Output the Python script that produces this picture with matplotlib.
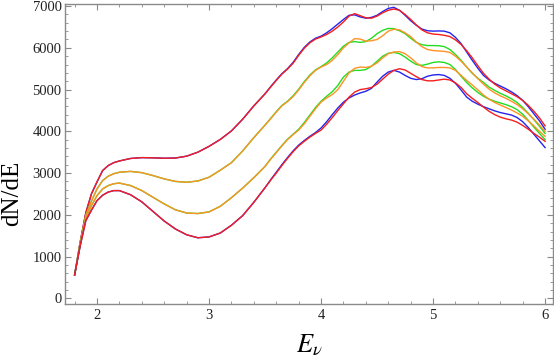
import matplotlib
matplotlib.use('Agg')
import matplotlib.pyplot as plt
from matplotlib.ticker import MultipleLocator

plt.rcParams['font.family'] = ['Liberation Serif', 'DejaVu Serif']
plt.rcParams['mathtext.fontset'] = 'stix'

# energy grid: finer near the steep start and where curves wiggle
e_low = [1.8, 1.85, 1.9, 1.95, 2.0, 2.05, 2.1, 2.15, 2.2, 2.3, 2.4, 2.5,
         2.6, 2.7, 2.8, 2.9, 3.0, 3.1, 3.2, 3.3, 3.4]
e_high = [3.5, 3.55, 3.6, 3.65, 3.7, 3.75, 3.8, 3.85, 3.9, 3.95,
          4.0, 4.05, 4.1, 4.15, 4.2, 4.25, 4.3, 4.35, 4.4, 4.45,
          4.5, 4.55, 4.6, 4.65, 4.7, 4.75, 4.8, 4.85, 4.9, 4.95,
          5.0, 5.05, 5.1, 5.15, 5.2, 5.25, 5.3, 5.35, 5.4, 5.45,
          5.5, 5.55, 5.6, 5.65, 5.7, 5.75, 5.8, 5.85, 5.9, 5.95,
          6.0]
energy = e_low + e_high

# low-energy part, pairs coincide there
low_top = [560, 1350, 2050, 2500, 2790, 3060, 3180, 3250, 3290, 3350, 3370, 3365,
           3355, 3360, 3405, 3500, 3640, 3805, 4010, 4290, 4610]
low_2nd = [560, 1320, 1980, 2330, 2620, 2820, 2925, 2985, 3020, 3040, 3010, 2940,
           2860, 2800, 2780, 2810, 2900, 3068, 3250, 3530, 3850]
low_3rd = [560, 1290, 1920, 2220, 2460, 2620, 2700, 2745, 2760, 2700, 2580, 2420,
           2260, 2120, 2043, 2030, 2070, 2203, 2410, 2640, 2890]
low_bot = [560, 1260, 1860, 2110, 2340, 2470, 2545, 2580, 2580, 2480, 2310, 2080,
           1850, 1660, 1522, 1450, 1470, 1563, 1750, 1980, 2300]

red_top = low_top + [4900, 5060, 5220, 5370, 5490, 5630, 5820, 5990, 6120, 6210,
                     6260, 6320, 6400, 6500, 6620, 6760, 6820, 6770, 6720, 6710,
                     6760, 6840, 6900, 6930, 6900, 6800, 6680, 6550, 6430, 6360,
                     6330, 6320, 6300, 6270, 6190, 6080, 5930, 5760, 5570, 5390,
                     5250, 5130, 5040, 4970, 4900, 4830, 4740, 4620, 4480, 4320,
                     4130]
blue_top = low_top + [4900, 5070, 5230, 5380, 5500, 5650, 5840, 6010, 6140, 6230,
                      6280, 6360, 6460, 6570, 6680, 6780, 6790, 6740, 6710, 6730,
                      6780, 6870, 6945, 6970, 6900, 6780, 6650, 6540, 6450, 6410,
                      6400, 6405, 6400, 6360, 6250, 6100, 5900, 5700, 5510, 5340,
                      5230, 5150, 5085, 5020, 4945, 4855, 4740, 4590, 4420, 4250,
                      4050]
orange_2nd = low_2nd + [4150, 4300, 4460, 4610, 4710, 4830, 4990, 5170, 5330, 5460,
                        5540, 5600, 5700, 5840, 6000, 6120, 6220, 6210, 6160, 6170,
                        6200, 6290, 6400, 6445, 6430, 6360, 6270, 6140, 6030, 5960,
                        5935, 5925, 5915, 5890, 5800, 5680, 5540, 5400, 5260, 5130,
                        5010, 4920, 4850, 4790, 4720, 4640, 4540, 4420, 4290, 4150,
                        4000]
green_2nd = low_2nd + [4150, 4310, 4470, 4620, 4720, 4850, 5010, 5190, 5350, 5470,
                       5550, 5640, 5760, 5900, 6040, 6130, 6150, 6130, 6150, 6230,
                       6340, 6420, 6465, 6460, 6410, 6340, 6230, 6130, 6075, 6055,
                       6055, 6050, 6030, 5960, 5840, 5700, 5540, 5390, 5270, 5170,
                       5060, 4980, 4910, 4850, 4780, 4690, 4570, 4430, 4280, 4120,
                       3950]
orange_3rd = low_3rd + [3160, 3330, 3490, 3650, 3800, 3920, 4030, 4180, 4360, 4540,
                        4700, 4800, 4880, 5000, 5200, 5400, 5510, 5540, 5530, 5560,
                        5640, 5760, 5860, 5900, 5910, 5860, 5760, 5640, 5550, 5520,
                        5520, 5530, 5530, 5520, 5460, 5340, 5220, 5110, 4990, 4870,
                        4770, 4690, 4630, 4570, 4510, 4440, 4360, 4250, 4130, 4000,
                        3880]
green_3rd = low_3rd + [3160, 3340, 3500, 3660, 3810, 3930, 4050, 4210, 4390, 4570,
                       4720, 4840, 4950, 5100, 5300, 5420, 5460, 5460, 5480, 5560,
                       5680, 5800, 5870, 5890, 5860, 5780, 5680, 5600, 5580, 5610,
                       5650, 5665, 5650, 5600, 5480, 5320, 5170, 5040, 4930, 4840,
                       4770, 4720, 4680, 4640, 4590, 4520, 4410, 4260, 4100, 3950,
                       3800]
red_bot = low_bot + [2650, 2830, 3000, 3180, 3350, 3510, 3650, 3760, 3860, 3950,
                     4030, 4170, 4330, 4500, 4660, 4820, 4940, 5000, 5020, 5050,
                     5130, 5250, 5370, 5460, 5500, 5470, 5390, 5310, 5240, 5210,
                     5210, 5230, 5250, 5230, 5160, 5050, 4900, 4790, 4690, 4580,
                     4480, 4400, 4340, 4300, 4270, 4220, 4140, 4050, 3950, 3860,
                     3760]
blue_bot = low_bot + [2650, 2840, 3020, 3200, 3370, 3530, 3670, 3780, 3880, 3970,
                      4080, 4230, 4400, 4560, 4700, 4800, 4870, 4920, 4960, 5030,
                      5180, 5320, 5420, 5460, 5420, 5340, 5270, 5240, 5260, 5320,
                      5350, 5360, 5340, 5270, 5150, 4990, 4820, 4720, 4650, 4590,
                      4540, 4490, 4450, 4420, 4390, 4330, 4230, 4090, 3930, 3770,
                      3610]

RED = '#f41e1e'
BLUE = '#2424ee'
GREEN = '#22dd22'
ORANGE = '#ff9226'

fig = plt.figure(figsize=(5.54, 3.58), dpi=100)
ax = fig.add_axes([0.1173, 0.1508, 0.881, 0.838])

lw = 1.0
# blue/green first so red/orange sit on top where they overlap
ax.plot(energy, blue_top, color=BLUE, lw=lw)
ax.plot(energy, red_top, color=RED, lw=lw)
ax.plot(energy, green_2nd, color=GREEN, lw=lw)
ax.plot(energy, orange_2nd, color=ORANGE, lw=lw)
ax.plot(energy, green_3rd, color=GREEN, lw=lw)
ax.plot(energy, orange_3rd, color=ORANGE, lw=lw)
ax.plot(energy, blue_bot, color=BLUE, lw=lw)
ax.plot(energy, red_bot, color=RED, lw=lw)

ax.set_xlim(1.714, 6.071)
ax.set_ylim(-137, 7050)

ax.xaxis.set_major_locator(MultipleLocator(1))
ax.xaxis.set_minor_locator(MultipleLocator(0.2))
ax.yaxis.set_major_locator(MultipleLocator(1000))
ax.yaxis.set_minor_locator(MultipleLocator(200))

frame_col = '#8a8a8a'
for s in ax.spines.values():
    s.set_color(frame_col)
    s.set_linewidth(1.0)
ax.tick_params(which='both', direction='in', top=True, right=True, color=frame_col,
               labelsize=10.5, labelcolor='#222222')
ax.tick_params(which='major', length=4.5, width=0.8)
ax.tick_params(which='minor', length=2.5, width=0.6)
ax.tick_params(axis='y', pad=2.5)
ax.tick_params(axis='x', pad=3.5)

fig.text(0.022, 0.46, 'dN/dE', rotation=90, fontsize=18, ha='center', va='center')
fig.text(0.558, 0.035, r'$E_\nu$', fontsize=19, ha='center', va='center')

fig.savefig('out.png', dpi=100)
